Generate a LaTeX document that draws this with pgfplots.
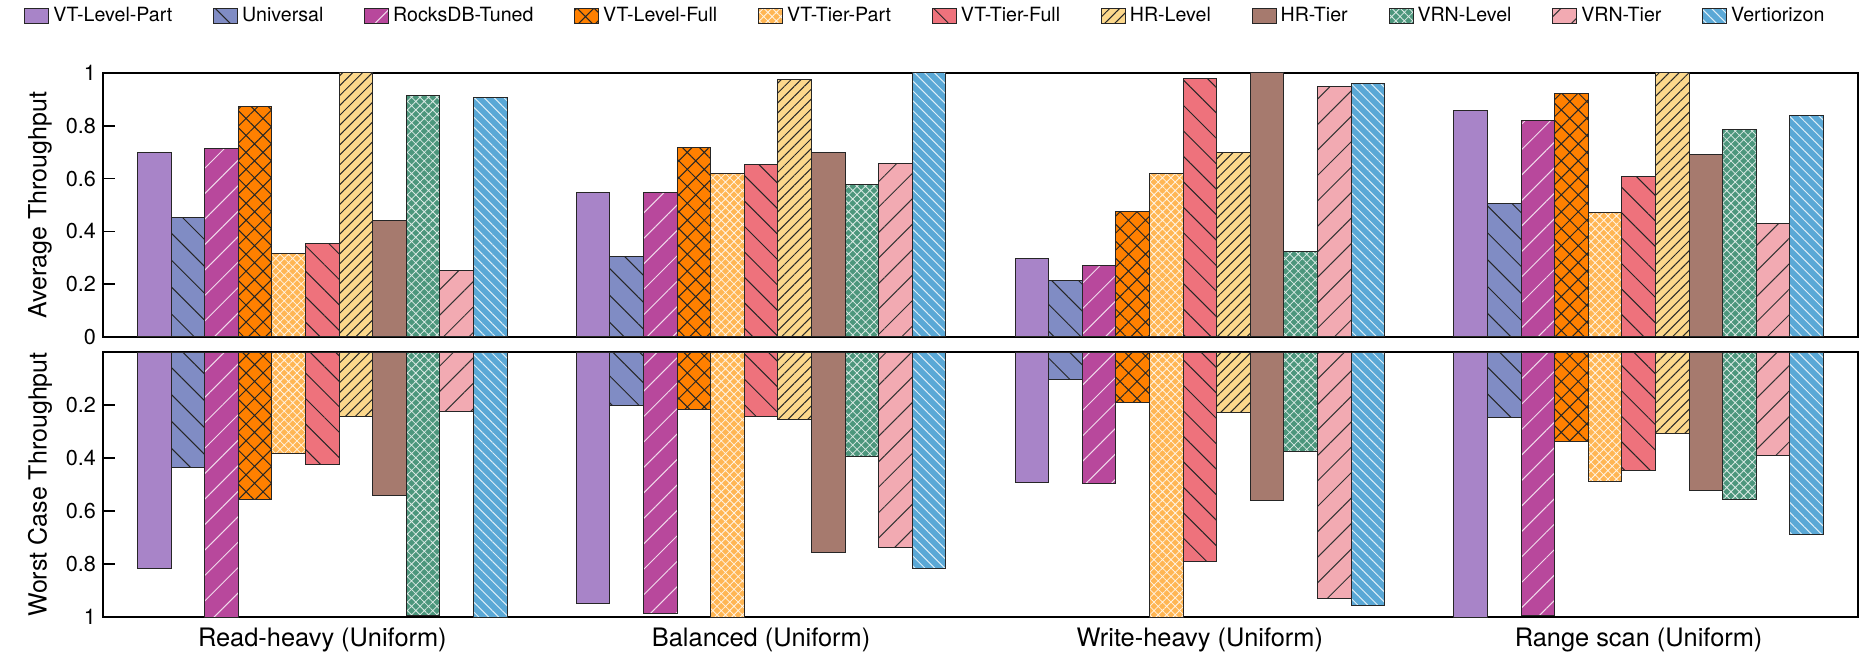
\documentclass[border=0pt]{standalone}
\usepackage{pgfplots}
\pgfplotsset{compat=1.18}
\usepackage{pgfplotstable}
\usetikzlibrary{patterns.meta}
\usepackage{fontspec}
\setmainfont{TeX Gyre Heros}

\definecolor{cA}{RGB}{168,132,200}
\definecolor{cB}{RGB}{128,140,196}
\definecolor{cC}{RGB}{184,72,156}
\definecolor{cD}{RGB}{255,128,0}
\definecolor{cE}{RGB}{255,182,84}
\definecolor{cF}{RGB}{238,114,124}
\definecolor{cG}{RGB}{252,216,140}
\definecolor{cH}{RGB}{166,122,110}
\definecolor{cI}{RGB}{76,150,124}
\definecolor{cJ}{RGB}{242,170,178}
\definecolor{cK}{RGB}{90,168,214}

% Average throughput: rows = workloads, columns = systems
\pgfplotstableread{
x A B C D E F G H I J K
0 0.698 0.453 0.714 0.874 0.317 0.353 1.000 0.440 0.916 0.252 0.907
1 0.549 0.305 0.547 0.719 0.618 0.654 0.975 0.700 0.579 0.659 1.000
2 0.298 0.213 0.272 0.477 0.618 0.981 0.700 1.000 0.325 0.947 0.960
3 0.859 0.505 0.820 0.922 0.471 0.607 1.000 0.693 0.787 0.431 0.840
}\avgtab

% Worst case throughput
\pgfplotstableread{
x A B C D E F G H I J K
0 0.818 0.436 1.000 0.557 0.384 0.424 0.243 0.543 0.994 0.223 1.000
1 0.950 0.203 0.985 0.216 1.000 0.243 0.255 0.756 0.396 0.736 0.816
2 0.494 0.103 0.497 0.190 1.000 0.790 0.228 0.560 0.377 0.930 0.956
3 1.000 0.249 0.995 0.336 0.490 0.449 0.309 0.523 0.556 0.390 0.688
}\worsttab

\pgfplotsset{
  barbase/.style={draw=black!85, line width=0.5pt},
  sA/.style={barbase, fill=cA},
  sB/.style={barbase, fill=cB, postaction={pattern={Lines[angle=-45,distance=9.5pt,line width=0.5pt]}, pattern color=black!85}},
  sC/.style={barbase, fill=cC, postaction={pattern={Lines[angle=45,distance=9pt,line width=0.5pt]}, pattern color=white!80!cC}},
  sD/.style={barbase, fill=cD, postaction={pattern={Hatch[angle=45,distance=6pt,line width=0.5pt]}, pattern color=black!85}},
  sE/.style={barbase, fill=cE, postaction={pattern={Hatch[angle=45,distance=3pt,line width=0.4pt]}, pattern color=white!85!cE}},
  sF/.style={barbase, fill=cF, postaction={pattern={Lines[angle=-45,distance=9pt,line width=0.5pt]}, pattern color=black!85}},
  sG/.style={barbase, fill=cG, postaction={pattern={Lines[angle=45,distance=3.5pt,line width=0.5pt]}, pattern color=black!85}},
  sH/.style={barbase, fill=cH},
  sI/.style={barbase, fill=cI, postaction={pattern={Hatch[angle=45,distance=3pt,line width=0.4pt]}, pattern color=white!80!cI}},
  sJ/.style={barbase, fill=cJ, postaction={pattern={Lines[angle=45,distance=9pt,line width=0.5pt]}, pattern color=black!80}},
  sK/.style={barbase, fill=cK, postaction={pattern={Lines[angle=-45,distance=3.5pt,line width=0.5pt]}, pattern color=white!80!cK}},
  common/.style={
    scale only axis,
    width=877.5pt,
    xmin=-0.5, xmax=3.5, ymin=0, ymax=1,
    ybar=0pt, bar width=16.8pt,
    axis line style={line width=1.4pt},
    ytick pos=left, tick align=inside, major tick length=6pt,
    ytick style={line width=0.8pt, black},
    xtick style={draw=none},
    /pgf/number format/assume math mode=true,
    tick label style={font=\fontsize{10.8}{12}\selectfont},
    ylabel style={font=\fontsize{12.5}{15}\selectfont, at={(axis description cs:-0.0359,0.5)}, anchor=center},
  },
}

\begin{document}
\begin{tikzpicture}
\useasboundingbox (-51.5pt,-158pt) rectangle (878.5pt,168.5pt);
\begin{axis}[common,
  at={(0,0)}, anchor=south west, height=132pt,
  xtick=\empty,
  ytick={0,0.2,0.4,0.6,0.8,1},
  yticklabels={0,0.2,0.4,0.6,0.8,1},
  ylabel={Average Throughput},
  legend image code/.code={\draw[#1] (0pt,-3.8pt) rectangle (12pt,3.8pt);},
  legend columns=11,
  legend cell align=left,
  legend style={draw=none, fill=none, at={(-0.0485,1.215)}, anchor=west,
    font=\fontsize{9.8}{11}\selectfont,
    /tikz/every even column/.append style={column sep=18.4pt},
    /tikz/every odd column/.append style={column sep=0pt}},
]
\addplot[sA] table[x=x,y=A]{\avgtab};
\addplot[sB] table[x=x,y=B]{\avgtab};
\addplot[sC] table[x=x,y=C]{\avgtab};
\addplot[sD] table[x=x,y=D]{\avgtab};
\addplot[sE] table[x=x,y=E]{\avgtab};
\addplot[sF] table[x=x,y=F]{\avgtab};
\addplot[sG] table[x=x,y=G]{\avgtab};
\addplot[sH] table[x=x,y=H]{\avgtab};
\addplot[sI] table[x=x,y=I]{\avgtab};
\addplot[sJ] table[x=x,y=J]{\avgtab};
\addplot[sK] table[x=x,y=K]{\avgtab};
\legend{VT-Level-Part,Universal,RocksDB-Tuned,VT-Level-Full,VT-Tier-Part,VT-Tier-Full,HR-Level,HR-Tier,VRN-Level,VRN-Tier,Vertiorizon}
\end{axis}
\begin{axis}[common,
  at={(0,-7.5pt)}, anchor=north west, height=132.5pt,
  y dir=reverse,
  ytick={0.2,0.4,0.6,0.8,1},
  yticklabels={0.2,0.4,0.6,0.8,1},
  xtick={0,1,2,3},
  xticklabels={Read-heavy (Uniform),Balanced (Uniform),Write-heavy (Uniform),Range scan (Uniform)},
  xticklabel style={font=\fontsize{12.7}{15}\selectfont, yshift=-2pt},
  ylabel={Worst Case Throughput},
]
\addplot[sA] table[x=x,y=A]{\worsttab};
\addplot[sB] table[x=x,y=B]{\worsttab};
\addplot[sC] table[x=x,y=C]{\worsttab};
\addplot[sD] table[x=x,y=D]{\worsttab};
\addplot[sE] table[x=x,y=E]{\worsttab};
\addplot[sF] table[x=x,y=F]{\worsttab};
\addplot[sG] table[x=x,y=G]{\worsttab};
\addplot[sH] table[x=x,y=H]{\worsttab};
\addplot[sI] table[x=x,y=I]{\worsttab};
\addplot[sJ] table[x=x,y=J]{\worsttab};
\addplot[sK] table[x=x,y=K]{\worsttab};
\end{axis}
\end{tikzpicture}
\end{document}
